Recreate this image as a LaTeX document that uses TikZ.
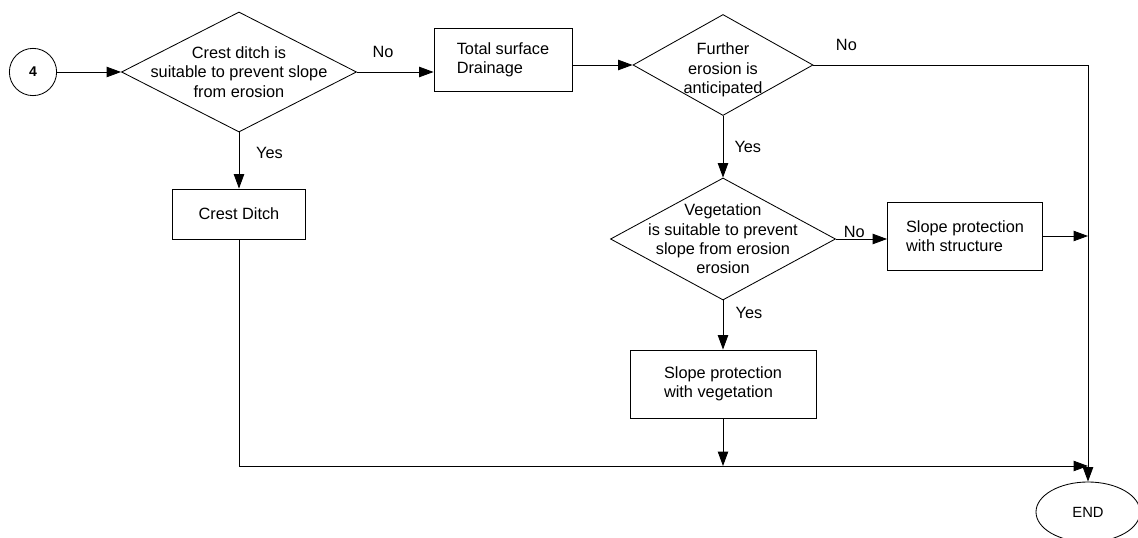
\documentclass[tikz,border=0pt]{standalone}
\usepackage{fontspec}
\setmainfont{Liberation Sans}
\usetikzlibrary{arrows.meta,shapes.geometric}

\begin{document}
\begin{tikzpicture}[x=0.025cm, y=-0.025cm,
    font=\fontsize{11.6}{13.8}\selectfont,
    line width=0.6pt,
    >={Triangle[length=0.36cm, width=0.26cm]},
    box/.style={draw, rectangle, align=left},
    decision/.style={draw, diamond, inner sep=0pt}]
    \useasboundingbox (0,0) rectangle (1138,538);

    % Entry point and crest ditch check
    \node[draw, circle, minimum size=1.18cm, inner sep=0pt, font=\bfseries\fontsize{10}{12}\selectfont] (start) at (33,72) {4};
    \node[decision, minimum width=5.875cm, minimum height=3cm,
        label={[align=center]center:Crest ditch is\\suitable to prevent slope\\from erosion}] (ditchq) at (239,72) {};
    \node[box, minimum width=3.325cm, minimum height=1.25cm] (crest) at (239,214) {Crest Ditch};

    % Surface drainage branch
    \node[box, minimum width=3.45cm, minimum height=1.575cm] (drain) at (503,60) {Total surface\\Drainage};
    \node[decision, minimum width=4.5cm, minimum height=2.525cm,
        label={[align=center, yshift=-0.12cm]center:Further\\erosion is\\anticipated}] (furtherq) at (723,65) {};

    % Vegetation check
    \node[decision, minimum width=5.625cm, minimum height=3.05cm,
        label={[align=center]center:Vegetation\\is suitable to prevent\\slope from erosion\\erosion}] (vegq) at (723,239) {};
    \node[box, minimum width=3.875cm, minimum height=1.7cm] (structure) at (965,236) {Slope protection\\with structure};
    \node[box, minimum width=4.65cm, minimum height=1.7cm] (vegetation) at (723,384) {Slope protection\\with vegetation};

    % End
    \node[draw, ellipse, minimum width=2.6cm, minimum height=1.5cm, inner sep=0pt, font=\fontsize{10.5}{12}\selectfont] (finish) at (1088,512) {END};
    \coordinate (merge) at (1088,466);

    % Connections
    \draw[->] (start) -- (ditchq.west);
    \draw[->] (ditchq.east) -- node[above=0.24cm, pos=0.34] {No} (ditchq.east -| drain.west);
    \draw[->] (ditchq.south) -- node[right=0.3cm, pos=0.37] {Yes} (crest.north);
    \draw[->] (furtherq.west -| drain.east) -- (furtherq.west);
    \draw[->] (furtherq.east) -- node[above=0.24cm, pos=0.12] {No} (furtherq.east -| finish.north) -- (finish.north);
    \draw[->] (furtherq.south) -- node[right=0.16cm, pos=0.5] {Yes} (vegq.north);
    \draw[->] (vegq.east) -- node[above, inner sep=1pt, pos=0.36] {No} (vegq.east -| structure.west);
    \draw[->] (structure.east) -- (structure.east -| finish.north);
    \draw[->] (vegq.south) -- node[right=0.19cm, pos=0.26] {Yes} (vegetation.north);
    \draw[->] (vegetation.south) -- (vegetation.south |- merge);
    \draw[->] (crest.south) |- (merge);
\end{tikzpicture}
\end{document}
